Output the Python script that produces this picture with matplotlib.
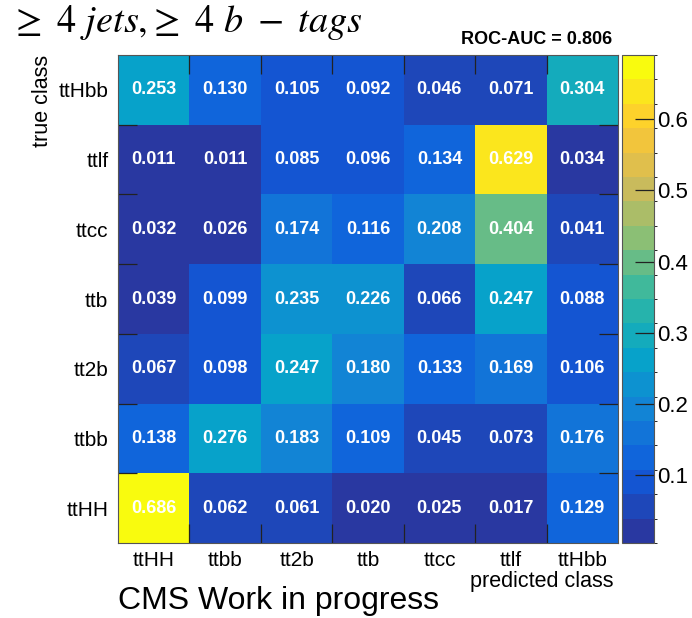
import numpy as np
import matplotlib
matplotlib.use('Agg')
import matplotlib.pyplot as plt
from matplotlib.colors import LinearSegmentedColormap, ListedColormap, BoundaryNorm

plt.rcParams['font.family'] = ['Liberation Sans', 'DejaVu Sans']
plt.rcParams['mathtext.fontset'] = 'stix'

pred_classes = ['ttHH', 'ttbb', 'tt2b', 'ttb', 'ttcc', 'ttlf', 'ttHbb']
true_classes = ['ttHH', 'ttbb', 'tt2b', 'ttb', 'ttcc', 'ttlf', 'ttHbb']

# rows = true class (bottom to top), cols = predicted class
row_ttHH = [0.686, 0.062, 0.061, 0.020, 0.025, 0.017, 0.129]
row_ttbb = [0.138, 0.276, 0.183, 0.109, 0.045, 0.073, 0.176]
row_tt2b = [0.067, 0.098, 0.247, 0.180, 0.133, 0.169, 0.106]
row_ttb = [0.039, 0.099, 0.235, 0.226, 0.066, 0.247, 0.088]
row_ttcc = [0.032, 0.026, 0.174, 0.116, 0.208, 0.404, 0.041]
row_ttlf = [0.011, 0.011, 0.085, 0.096, 0.134, 0.629, 0.034]
row_ttHbb = [0.253, 0.130, 0.105, 0.092, 0.046, 0.071, 0.304]

roc_auc = 0.806
cbar_ticks = [0.1, 0.2, 0.3, 0.4, 0.5, 0.6]

matrix = np.array([row_ttHH, row_ttbb, row_tt2b, row_ttb, row_ttcc, row_ttlf, row_ttHbb])

# bird-like palette, 20 contour levels
stops = [0.0, 0.125, 0.25, 0.375, 0.5, 0.625, 0.75, 0.875, 1.0]
red = [0.16, 0.0592, 0.0780, 0.0232, 0.1802, 0.5301, 0.8186, 0.9956, 0.9764]
green = [0.22, 0.3599, 0.5041, 0.6419, 0.7178, 0.7492, 0.7328, 0.7862, 0.9832]
blue = [0.63, 0.8684, 0.8385, 0.7914, 0.6425, 0.4662, 0.3499, 0.1968, 0.0539]
bird = LinearSegmentedColormap.from_list(
    'bird', list(zip(stops, zip(red, green, blue))))
ncont = 20
cmap = ListedColormap(bird(np.linspace(0, 1, ncont)))
vmin, vmax = 0.005, 0.69
levels = np.linspace(vmin, vmax, ncont + 1)
norm = BoundaryNorm(levels, ncont)

fig = plt.figure(figsize=(6.92, 6.18), dpi=100)
ax = fig.add_axes([118 / 692, 75 / 618, 500 / 692, 488 / 618])
cax = fig.add_axes([622 / 692, 75 / 618, 32 / 692, 488 / 618])

n = len(pred_classes)
mesh = ax.pcolormesh(np.arange(n + 1), np.arange(n + 1), matrix,
                     cmap=cmap, norm=norm)
for i in range(n):
    for j in range(n):
        ax.text(j + 0.5, i + 0.5, '%.3f' % matrix[i, j], ha='center',
                va='center', color='white', fontsize=13, fontweight='bold')

ax.set_xlim(0, n)
ax.set_ylim(0, n)
ax.set_xticks(np.arange(n) + 0.5)
ax.set_xticklabels(pred_classes, fontsize=15)
ax.set_yticks(np.arange(n) + 0.5)
ax.set_yticklabels(true_classes, fontsize=15)
ax.tick_params(which='major', length=0, pad=7)
ax.tick_params(axis='x', which='major', pad=6)
ax.set_xticks(np.arange(1, n), minor=True)
ax.set_yticks(np.arange(1, n), minor=True)
ax.tick_params(which='minor', direction='in', length=14, width=0.9,
               color='#222222', top=True, right=True)
for s in ax.spines.values():
    s.set_color('#555555')
    s.set_linewidth(0.8)

cb = fig.colorbar(mesh, cax=cax, ticks=cbar_ticks)
cb.outline.set_edgecolor('#555555')
cb.outline.set_linewidth(0.8)
cax.tick_params(direction='in', length=14, width=0.9, color='#222222',
                labelsize=16, pad=2)
cax.set_yticklabels(['%.1f' % t for t in cbar_ticks])

fig.text(43 / 692, 1 - 55 / 618, 'true class', rotation=90, ha='center',
         va='top', fontsize=15.5)
fig.text(614 / 692, 1 - 581 / 618, 'predicted class', ha='right',
         va='center', fontsize=15.5)
fig.text(118 / 692, 1 - 601 / 618, 'CMS Work in progress', ha='left',
         va='center', fontsize=23)
fig.text(612 / 692, 1 - 40 / 618, 'ROC-AUC = %.3f' % roc_auc, ha='right',
         va='center', fontsize=13, fontweight='bold')
fig.text(10 / 692, 1 - 23 / 618,
         r'$\geq\ 4\ jets,\!\geq\ 4\ b\ -\ tags$',
         ha='left', va='center', fontsize=27.5)

fig.savefig('out.png', dpi=100)
